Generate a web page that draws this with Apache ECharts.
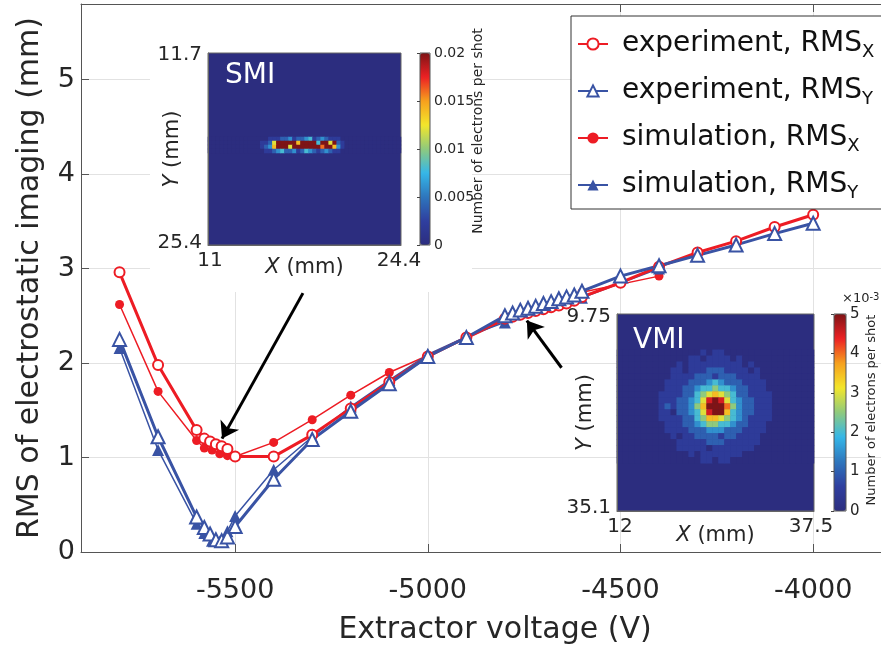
<!DOCTYPE html>
<html><head><meta charset="utf-8">
<script src="https://cdn.jsdelivr.net/npm/echarts@6/dist/echarts.min.js"></script>
<style>html,body{margin:0;padding:0;background:#fff}#c{width:881px;height:650px}</style>
</head><body><div id="c"></div>
<script>
// ---------- main chart data ----------
const expV = [-5800,-5700,-5600,-5580,-5565,-5550,-5535,-5520,-5500,-5400,-5300,-5200,-5100,-5000,-4900,-4800,-4780,-4760,-4740,-4720,-4700,-4680,-4660,-4640,-4620,-4600,-4500,-4400,-4300,-4200,-4100,-4000];
const expX = [2.96,1.98,1.29,1.20,1.17,1.14,1.12,1.09,1.01,1.01,1.24,1.52,1.80,2.07,2.27,2.47,2.49,2.51,2.53,2.55,2.57,2.59,2.61,2.63,2.66,2.70,2.85,3.02,3.17,3.29,3.44,3.57];
const expY = [2.25,1.22,0.37,0.26,0.19,0.13,0.12,0.16,0.27,0.77,1.19,1.49,1.78,2.07,2.27,2.50,2.53,2.56,2.58,2.60,2.63,2.65,2.68,2.70,2.72,2.76,2.92,3.03,3.14,3.25,3.37,3.48];
const simV = [-5800,-5700,-5600,-5580,-5560,-5540,-5520,-5500,-5400,-5300,-5200,-5100,-5000,-4900,-4800,-4600,-4400];
const simX = [2.62,1.70,1.18,1.10,1.08,1.04,1.02,1.01,1.16,1.40,1.66,1.90,2.08,2.26,2.45,2.75,2.92];
const simY = [2.16,1.08,0.30,0.20,0.12,0.11,0.22,0.38,0.87,1.22,1.54,1.82,2.09,2.28,2.43,2.69,3.00];
const seriesNames = ['experiment, RMS_X','experiment, RMS_Y','simulation, RMS_X','simulation, RMS_Y'];
const xTitle = 'Extractor voltage (V)';
const yTitle = 'RMS of electrostatic imaging (mm)';
const xMin = -5900, xMax = -3824;

// arrows (data coordinates: tail -> tip)
const arrowSMI = [[-5324, 2.74], [-5534, 1.20]];
const arrowVMI = [[-4653, 1.95], [-4743, 2.45]];

// ---------- inset SMI (48 x 48 cells, value = level * 0.002) ----------
const smiSize = 48;
const smiFirstRow = 21;
const smiScale = 0.002;
const smiRows = [
  '0000000000000' + '001112231223412321110' + '00000000000000',
  '0000000000000' + '1126aaaaa7aaaa4aa6a21' + '00000000000000',
  '0000000000000' + '1237aaa6aaaaaaa8aa731' + '00000000000000',
  '0000000000000' + '011234223124321232110' + '00000000000000'
];
const smiXTicks = ['11','24.4'];
const smiYTicks = ['11.7','25.4'];
const smiCbarMax = 0.02;

// ---------- inset VMI (33 x 33 cells, value = level * 0.0005) ----------
const vmiSize = 33;
const vmiFirstRow = 6;
const vmiScale = 0.0005;
const vmiRows = [
  '0000000' + '0000000101100000000' + '0000000',
  '0000000' + '0000011011110100000' + '0000000',
  '0000000' + '0001011111111101000' + '0000000',
  '0000000' + '0011011122211110100' + '0000000',
  '0000000' + '0011112221222111100' + '0000000',
  '0000000' + '0111122234322211110' + '0000000',
  '0000000' + '0111223445443221110' + '0000000',
  '0000000' + '1111224567654221111' + '0000000',
  '0000000' + '111223469a964322111' + '0000000',
  '0000000' + '12122357aaa85322111' + '0000000',
  '0000000' + '110223469aa74322111' + '0000000',
  '0000000' + '1111224577654321111' + '0000000',
  '0000000' + '0111223455443221110' + '0000000',
  '0000000' + '0111122233322211110' + '0000000',
  '0000000' + '0010112222122111100' + '0000000',
  '0000000' + '0001111122211111100' + '0000000',
  '0000000' + '0001111101111111000' + '0000000',
  '0000000' + '0000010111111100000' + '0000000',
  '0000000' + '0000000110110000000' + '0000000'
];
const vmiXTicks = ['12','37.5'];
const vmiYTicks = ['9.75','35.1'];
const vmiCbarMax = 0.005;

const cmap = ['#2c2d7f','#2f3f9f','#2e76bd','#35b7e8','#8fca7d','#f3e62b','#f6a01e','#ec2024','#7e1416'];
const RED = '#ed1c24', BLUE = '#3953a4';
const FONT = 'DejaVu Sans';
const TXT = '#262626';

function cells(rows, first, scale) {
  const out = [];
  rows.forEach((r, ri) => {
    for (let j = 0; j < r.length; j++) out.push([j, first + ri, parseInt(r[j], 16) * scale]);
  });
  return out;
}
const idx = n => Array.from({length: n}, (_, i) => i);
const zip = (a, b) => a.map((v, i) => [v, b[i]]);

function catAxis(grid, n, ticks, isY, name, nameGap) {
  const ax = {
    type: 'category', gridIndex: grid, data: idx(n), boundaryGap: true, z: 7,
    axisLine: {show: true, lineStyle: {color: '#666', width: 1}},
    axisTick: {show: false},
    splitLine: {show: false},
    axisLabel: {
      interval: (i) => i === 0 || i === n - 1,
      formatter: (v, i) => (Number(v) === 0 ? ticks[0] : ticks[1]),
      fontSize: 20, color: TXT, fontFamily: FONT, margin: 6
    },
    name: name, nameLocation: 'middle', nameGap: nameGap, nameMoveOverlap: false,
    nameTextStyle: {fontSize: 21, color: TXT, fontFamily: FONT, rich: {i: {fontStyle: 'italic', fontSize: 21, fontFamily: FONT, color: TXT}}}
  };
  if (isY) { ax.inverse = true; }
  return ax;
}

const chart = echarts.init(document.getElementById('c'), null, {renderer: 'canvas'});
const option = {
  animation: false,
  textStyle: {fontFamily: FONT},
  grid: [
    {left: 81, top: 4, right: 0, height: 551},
    {left: 208, top: 53, width: 193, height: 192, show: true, backgroundColor: cmap[0], borderColor: '#666', borderWidth: 1, z: 5},
    {left: 420, top: 53, width: 10, height: 192, show: true, backgroundColor: 'transparent', borderColor: '#555', borderWidth: 1, z: 5},
    {left: 617, top: 314, width: 197, height: 197, show: true, backgroundColor: cmap[0], borderColor: '#666', borderWidth: 1, z: 5},
    {left: 834, top: 314, width: 12, height: 197, show: true, backgroundColor: 'transparent', borderColor: '#555', borderWidth: 1, z: 5}
  ],
  xAxis: [
    {type: 'value', gridIndex: 0, min: xMin, max: xMax, position: 'bottom',
     axisLine: {lineStyle: {color: '#555', width: 1}},
     axisTick: {inside: true, length: 8, lineStyle: {color: '#555'}},
     axisLabel: {fontSize: 27, color: TXT, margin: 25, showMinLabel: false, showMaxLabel: false,
                 formatter: v => (v % 500 === 0 ? String(v) : '')},
     splitLine: {show: true, lineStyle: {color: '#e2e2e2', width: 1}},
     name: xTitle, nameLocation: 'middle', nameGap: 63,
     nameTextStyle: {fontSize: 30, color: TXT, padding: [0, 0, 0, 28]}},
    {type: 'value', gridIndex: 0, min: xMin, max: xMax, position: 'top',
     axisLine: {lineStyle: {color: '#555', width: 1}},
     axisTick: {inside: true, length: 8, lineStyle: {color: '#555'}},
     axisLabel: {show: false}, splitLine: {show: false}},
    catAxis(1, smiSize, smiXTicks, false, '{i|X} (mm)', 12),
    {type: 'value', gridIndex: 2, min: 0, max: 1, show: false},
    catAxis(3, vmiSize, vmiXTicks, false, '{i|X} (mm)', 14),
    {type: 'value', gridIndex: 4, min: 0, max: 1, show: false}
  ],
  yAxis: [
    {type: 'value', gridIndex: 0, min: 0, max: 5.8, interval: 1,
     axisLine: {show: true, lineStyle: {color: '#555', width: 1}},
     axisTick: {show: true, inside: true, length: 8, lineStyle: {color: '#555'}},
     axisLabel: {fontSize: 27, color: TXT, margin: 6, showMaxLabel: false},
     splitLine: {show: true, lineStyle: {color: '#e2e2e2', width: 1}},
     name: yTitle, nameLocation: 'middle', nameGap: 36,
     nameTextStyle: {fontSize: 30, color: TXT}},
    catAxis(1, smiSize, smiYTicks, true, '{i|Y} (mm)', 25),
    {type: 'value', gridIndex: 2, min: 0, max: smiCbarMax, interval: 0.005, position: 'right', z: 7,
     axisLine: {show: false}, axisTick: {show: true, inside: true, length: 3, lineStyle: {color: '#444'}},
     axisLabel: {fontSize: 14, color: TXT, margin: 4}, splitLine: {show: false}},
    catAxis(3, vmiSize, vmiYTicks, true, '{i|Y} (mm)', 21),
    {type: 'value', gridIndex: 4, min: 0, max: 5, interval: 1, position: 'right', z: 7,
     axisLine: {show: false}, axisTick: {show: true, inside: true, length: 3, lineStyle: {color: '#444'}},
     axisLabel: {fontSize: 15, color: TXT, margin: 4}, splitLine: {show: false}}
  ],
  visualMap: [
    {type: 'continuous', seriesIndex: 4, min: 0, max: smiCbarMax, calculable: false, hoverLink: false,
     inRange: {color: cmap}, left: 420, top: 53, itemWidth: 10, itemHeight: 192, padding: 0, z: 4},
    {type: 'continuous', seriesIndex: 5, min: 0, max: vmiCbarMax, calculable: false, hoverLink: false,
     inRange: {color: cmap}, left: 834, top: 314, itemWidth: 12, itemHeight: 197, padding: 0, z: 4}
  ],
  legend: {
    data: seriesNames, orient: 'vertical', left: 571, top: 16,
    padding: [11, 14, 7, 6], itemGap: 13, itemWidth: 30, itemHeight: 14,
    backgroundColor: '#fff', borderColor: '#333', borderWidth: 1, borderRadius: 0,
    formatter: n => n.replace(/_([XY])/, '{s|$1}'),
    textStyle: {fontSize: 28, color: '#111', fontFamily: FONT, lineHeight: 34, padding: [0, 0, 0, 9],
      rich: {s: {fontSize: 18, fontFamily: FONT, color: '#111', lineHeight: 12, verticalAlign: 'bottom'}}},
    z: 6
  },
  graphic: [
    {type: 'rect', z: 1, shape: {x: 150, y: 5, width: 322, height: 287}, style: {fill: '#fff'}},
    {type: 'text', z: 10, x: 225, y: 62, style: {text: 'SMI', fill: '#fff', font: '28px "DejaVu Sans"'}},
    {type: 'text', z: 10, x: 633, y: 327, style: {text: 'VMI', fill: '#fff', font: '28px "DejaVu Sans"'}},
    {type: 'text', z: 10, x: 478, y: 131, rotation: Math.PI / 2,
     style: {text: 'Number of electrons per shot', fill: TXT, font: '14px "DejaVu Sans"', align: 'center', verticalAlign: 'middle'}},
    {type: 'text', z: 10, x: 872, y: 410, rotation: Math.PI / 2,
     style: {text: 'Number of electrons per shot', fill: TXT, font: '13px "DejaVu Sans"', align: 'center', verticalAlign: 'middle'}},
    {type: 'text', z: 10, x: 842, y: 292,
     style: {text: '×10{sup|-3}', fill: TXT, font: '13px "DejaVu Sans"',
       rich: {sup: {fontSize: 10, fontFamily: FONT, fill: TXT, verticalAlign: 'top', lineHeight: 10}}}}
  ],
  series: [
    {name: seriesNames[0], type: 'line', xAxisIndex: 0, yAxisIndex: 0, data: zip(expV, expX),
     symbol: 'circle', symbolSize: 10, color: RED, z: 4,
     itemStyle: {color: '#fff', borderColor: RED, borderWidth: 2},
     lineStyle: {color: RED, width: 3}},
    {name: seriesNames[1], type: 'line', xAxisIndex: 0, yAxisIndex: 0, data: zip(expV, expY),
     symbol: 'triangle', symbolSize: 13, color: BLUE, z: 4,
     itemStyle: {color: '#fff', borderColor: BLUE, borderWidth: 2},
     lineStyle: {color: BLUE, width: 3}},
    {name: seriesNames[2], type: 'line', xAxisIndex: 0, yAxisIndex: 0, data: zip(simV, simX),
     symbol: 'circle', symbolSize: 9, color: RED, z: 3,
     itemStyle: {color: RED, borderWidth: 0},
     lineStyle: {color: RED, width: 1.5}},
    {name: seriesNames[3], type: 'line', xAxisIndex: 0, yAxisIndex: 0, data: zip(simV, simY),
     symbol: 'triangle', symbolSize: 12, color: BLUE, z: 3,
     itemStyle: {color: BLUE, borderWidth: 0},
     lineStyle: {color: BLUE, width: 1.5}},
    {type: 'heatmap', xAxisIndex: 2, yAxisIndex: 1, data: cells(smiRows, smiFirstRow, smiScale), z: 6,
     progressive: 0, itemStyle: {borderWidth: 0}, emphasis: {disabled: true}},
    {type: 'heatmap', xAxisIndex: 4, yAxisIndex: 3, data: cells(vmiRows, vmiFirstRow, vmiScale), z: 6,
     progressive: 0, itemStyle: {borderWidth: 0}, emphasis: {disabled: true}},
    {type: 'lines', coordinateSystem: 'cartesian2d', xAxisIndex: 0, yAxisIndex: 0, z: 8,
     symbol: ['none', 'arrow'], symbolSize: 16,
     lineStyle: {color: '#000', width: 3, opacity: 1, curveness: 0},
     data: [{coords: arrowSMI}, {coords: arrowVMI}]}
  ]
};
chart.setOption(option);
</script></body></html>
